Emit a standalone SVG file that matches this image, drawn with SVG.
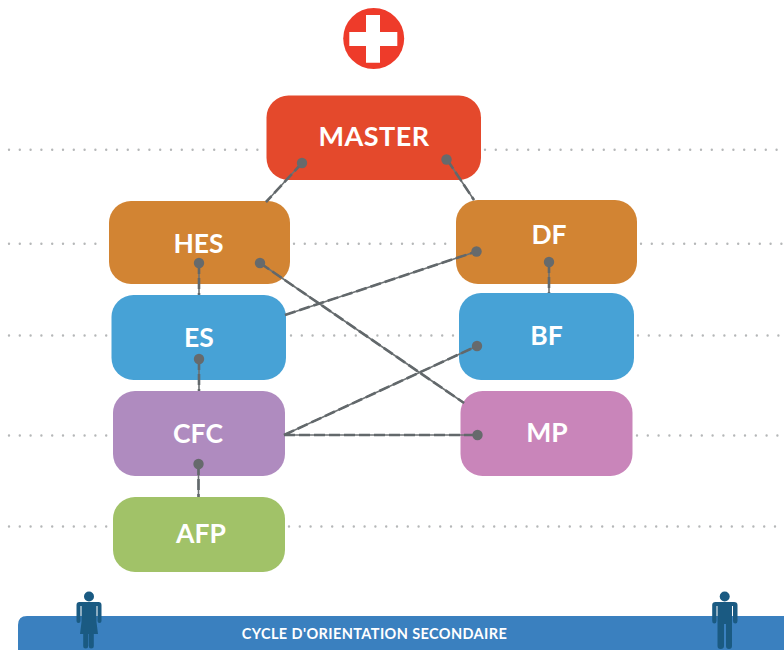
<svg xmlns="http://www.w3.org/2000/svg" width="784" height="650" viewBox="0 0 784 650">
<style>
.dot{fill:none;stroke:#b5b7b8;stroke-width:2.4;stroke-linecap:round;stroke-dasharray:0 10.8}
.lbl{font-family:"Lato","Open Sans",sans-serif;font-weight:700;font-size:26.500px;fill:#fff;text-anchor:middle}
.thin{fill:none;stroke:#6d7274;stroke-width:1.6}
.dash{fill:none;stroke:#62686b;stroke-width:2.600;stroke-dasharray:11 4}
.pin{fill:#666a6c}
.fig{fill:#1a5a82}
</style>
<defs>
<g id="conn-head"><circle r="5.2" class="pin"/></g>
</defs>
<g id="guides">
<path class="dot" d="M9 149.800H262M485 149.800H784"/>
<path class="dot" d="M9 243.700H105M294 243.700H452M641 243.700H784"/>
<path class="dot" d="M9 335.500H107M291 335.500H455M638 335.500H784"/>
<path class="dot" d="M9 435.500H109M637 435.500H784"/>
<path class="dot" d="M9 526.500H109M289 526.500H784"/>
</g>
<g id="emblem">
<circle cx="373.700" cy="38.500" r="30.500" fill="#ee3b2a"/>
<path fill="#fff" d="M366 15H380V32H397.300V46H380V62.700H366V46H349.300V32H366Z"/>
</g>
<g id="node-master"><rect x="266.500" y="95.500" width="214.500" height="84.500" rx="22" fill="#e4492c"/><text class="lbl" x="374" y="146" letter-spacing=".5" style="font-size:27px">MASTER</text></g>
<g id="node-hes"><rect x="109" y="201" width="181" height="83" rx="22" fill="#d28433"/><text class="lbl" x="198.500" y="253">HES</text></g>
<g id="node-df"><rect x="456" y="200" width="181" height="84" rx="22" fill="#d28433"/><text class="lbl" x="549" y="244">DF</text></g>
<g id="node-es"><rect x="111.500" y="295" width="174.500" height="85" rx="22" fill="#47a2d6"/><text class="lbl" x="199" y="347">ES</text></g>
<g id="node-bf"><rect x="459" y="293" width="175" height="87" rx="22" fill="#47a2d6"/><text class="lbl" x="546.500" y="345">BF</text></g>
<g id="node-cfc"><rect x="113" y="391" width="172" height="85" rx="22" fill="#af8bbf"/><text class="lbl" x="198" y="443">CFC</text></g>
<g id="node-mp"><rect x="460.500" y="391" width="172" height="85" rx="22" fill="#c985ba"/><text class="lbl" x="547" y="442">MP</text></g>
<g id="node-afp"><rect x="113" y="497" width="172" height="75" rx="22" fill="#a1c268"/><text class="lbl" x="201" y="543">AFP</text></g>
<g id="connectors">
<path class="thin" d="M302 163L266 202M447 159.500L474 200M199 263V295M199 359V391M198.500 464V497M549 262V293M260 263L464 403M285 315L476.500 251.500M284 435L477 346M284 435H477.500"/>
<path class="dash" d="M302 163L266 202M447 159.500L474 200M199 263V295M199 359V391M198.500 464V497M549 262V293M260 263L464 403M285 315L476.500 251.500M284 435L477 346M284 435H477.500"/>
<use href="#conn-head" x="302" y="163"/>
<use href="#conn-head" x="446.500" y="159.500"/>
<use href="#conn-head" x="199" y="263"/>
<use href="#conn-head" x="260" y="263"/>
<use href="#conn-head" x="476.500" y="251.500"/>
<use href="#conn-head" x="549" y="262"/>
<use href="#conn-head" x="199" y="359"/>
<use href="#conn-head" x="477" y="346"/>
<use href="#conn-head" x="198.500" y="464"/>
<use href="#conn-head" x="477.500" y="435"/>
</g>
<g id="node-cycle">
<path d="M784 616H27Q18 616 18 625V650H784Z" fill="#3a80bf"/>
<text x="374.500" y="639" font-family="Lato,'Open Sans',sans-serif" font-weight="700" font-size="14.500" letter-spacing=".4" fill="#fff" text-anchor="middle">CYCLE D'ORIENTATION SECONDAIRE</text>
</g>
<g id="figure-left" class="fig">
<circle cx="89" cy="596.500" r="5"/>
<path d="M79.500 602H98.500Q101.500 602 101.500 605V621Q101.500 623 99.500 623Q97.500 623 97.500 621V606H96.500V622L98 634H93.800V646Q93.800 648.500 91 648.500Q88.800 648.500 88.800 646V634H88.200V646Q88.200 648.500 85.800 648.500Q83.200 648.500 83.200 646V634H80L81.500 622V606H80.500V621Q80.500 623 78.500 623Q76.500 623 76.500 621V605Q76.500 602 79.500 602Z"/>
</g>
<g id="figure-right" class="fig">
<circle cx="724.700" cy="596.500" r="5"/>
<path d="M715.500 602H734Q737.500 602 737.500 605V621Q737.500 623.500 735.300 623.500Q733 623.500 733 621V606H732V646Q732 649 729 649Q726 649 726 646V624H724V646Q724 649 720.500 649Q717.500 649 717.500 646V606H716.500V621Q716.500 623.500 714.300 623.500Q712.200 623.500 712.200 621V605Q712.200 602 715.500 602Z"/>
</g>
</svg>
